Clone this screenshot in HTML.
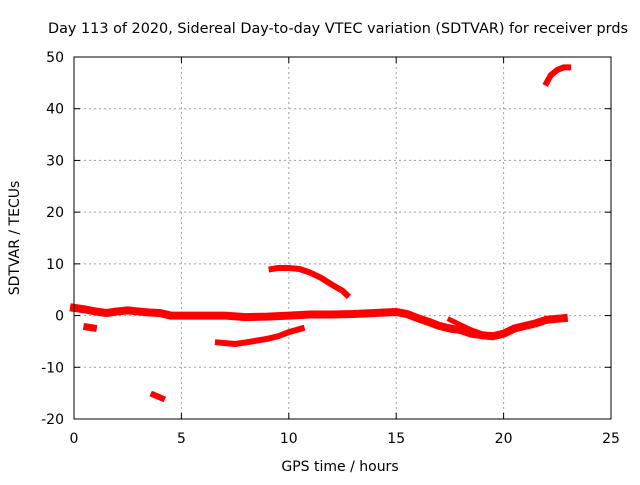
<!DOCTYPE html>
<html><head><meta charset="utf-8"><style>
body{margin:0;background:#fff}
svg text{font-family:"DejaVu Sans","Liberation Sans",sans-serif;font-size:14px;fill:#000}
</style></head><body>
<svg width="640" height="480" id="c">
<text x="338" y="33" text-anchor="middle" textLength="580" lengthAdjust="spacingAndGlyphs">Day 113 of 2020, Sidereal Day-to-day VTEC variation (SDTVAR) for receiver prds</text>
<text x="340" y="471" text-anchor="middle">GPS time / hours</text>
<text transform="translate(19,238) rotate(-90)" text-anchor="middle">SDTVAR / TECUs</text>
<g id="grid"></g><g id="marks"></g>
<rect x="74" y="57" width="537" height="362" fill="none" stroke="#000" stroke-width="1"/>
</svg>
<script>
const xTicks=[0,5,10,15,20,25];
const yTicks=[-20,-10,0,10,20,30,40,50];
const mainX=[0,0.5,1,1.5,2,2.5,3,3.5,4,4.5,5,6,7,8,9,10,11,12,13,14,15,15.5,16,16.5,17,17.5,18,18.5,19,19.5,20,20.5,21,21.5,22,22.8];
const mainY=[1.5,1.2,0.8,0.5,0.8,1,0.8,0.6,0.5,0,0,0,0,-0.3,-0.2,0,0.2,0.2,0.3,0.5,0.7,0.3,-0.5,-1.2,-2,-2.5,-2.8,-3.5,-3.8,-4,-3.5,-2.5,-2,-1.5,-0.8,-0.5];
const upperArcX=[9.2,9.5,10,10.5,11,11.5,12,12.5,12.7];
const upperArcY=[9,9.2,9.2,9,8.3,7.3,6,4.8,4];
const lowerArcX=[6.7,7.5,8,9,9.5,10,10.6];
const lowerArcY=[-5.2,-5.5,-5.2,-4.5,-4,-3.2,-2.5];
const branchX=[17.5,18,18.5,19];
const branchY=[-0.8,-1.8,-2.8,-3.5];
const blob1X=[0.6,0.9];const blob1Y=[-2.2,-2.4];
const blob2X=[3.7,4.1];const blob2Y=[-15.3,-16];
const topX=[22,22.2,22.5,22.8,23];const topY=[45,46.5,47.5,48,48];
const X=v=>74+v*(611-74)/25, Y=v=>419-(v+20)*(419-57)/70;
const NS='http://www.w3.org/2000/svg';
const grid=document.getElementById('grid'),marks=document.getElementById('marks');
function mk(t,a,p){const e=document.createElementNS(NS,t);for(const k in a)e.setAttribute(k,a[k]);p.appendChild(e);return e;}
xTicks.forEach(t=>{const x=X(t);
 if(t>0&&t<25){const l=mk('line',{x1:x,x2:x,y1:57,y2:419,stroke:'#a0a0a0','stroke-dasharray':'2,3'},grid);
 
 }
 mk('line',{x1:x,x2:x,y1:419,y2:413,stroke:'#000'},grid);mk('line',{x1:x,x2:x,y1:57,y2:63,stroke:'#000'},grid);
 const tx=mk('text',{x:x,y:443,'text-anchor':'middle'},grid);tx.textContent=t;
 
 });
yTicks.forEach(t=>{const y=Y(t);
 if(t>-20&&t<50){const l=mk('line',{x1:74,x2:611,y1:y,y2:y,stroke:'#a0a0a0','stroke-dasharray':'2,3'},grid);
 
 }
 mk('line',{x1:74,x2:80,y1:y,y2:y,stroke:'#000'},grid);mk('line',{x1:605,x2:611,y1:y,y2:y,stroke:'#000'},grid);
 const tx=mk('text',{x:64,y:y+5,'text-anchor':'end'},grid);tx.textContent=t;
 
 });
function series(xs,ys,name,w){const pts=xs.map((v,i)=>X(v)+','+Y(ys[i])).join(' ');
 const p=mk('polyline',{points:pts,fill:'none',stroke:'#ff0000','stroke-width':w,'stroke-linejoin':'round','stroke-linecap':'square'},marks);
 
 }
series(mainX,mainY,'main-band',8);
series(upperArcX,upperArcY,'upper-arc',6);
series(lowerArcX,lowerArcY,'lower-arc',6);
series(branchX,branchY,'branch-segment',5);
series(blob1X,blob1Y,'blob-early',7);
series(blob2X,blob2Y,'blob-low',6);
series(topX,topY,'top-arc',6);
</script>
</body></html>
